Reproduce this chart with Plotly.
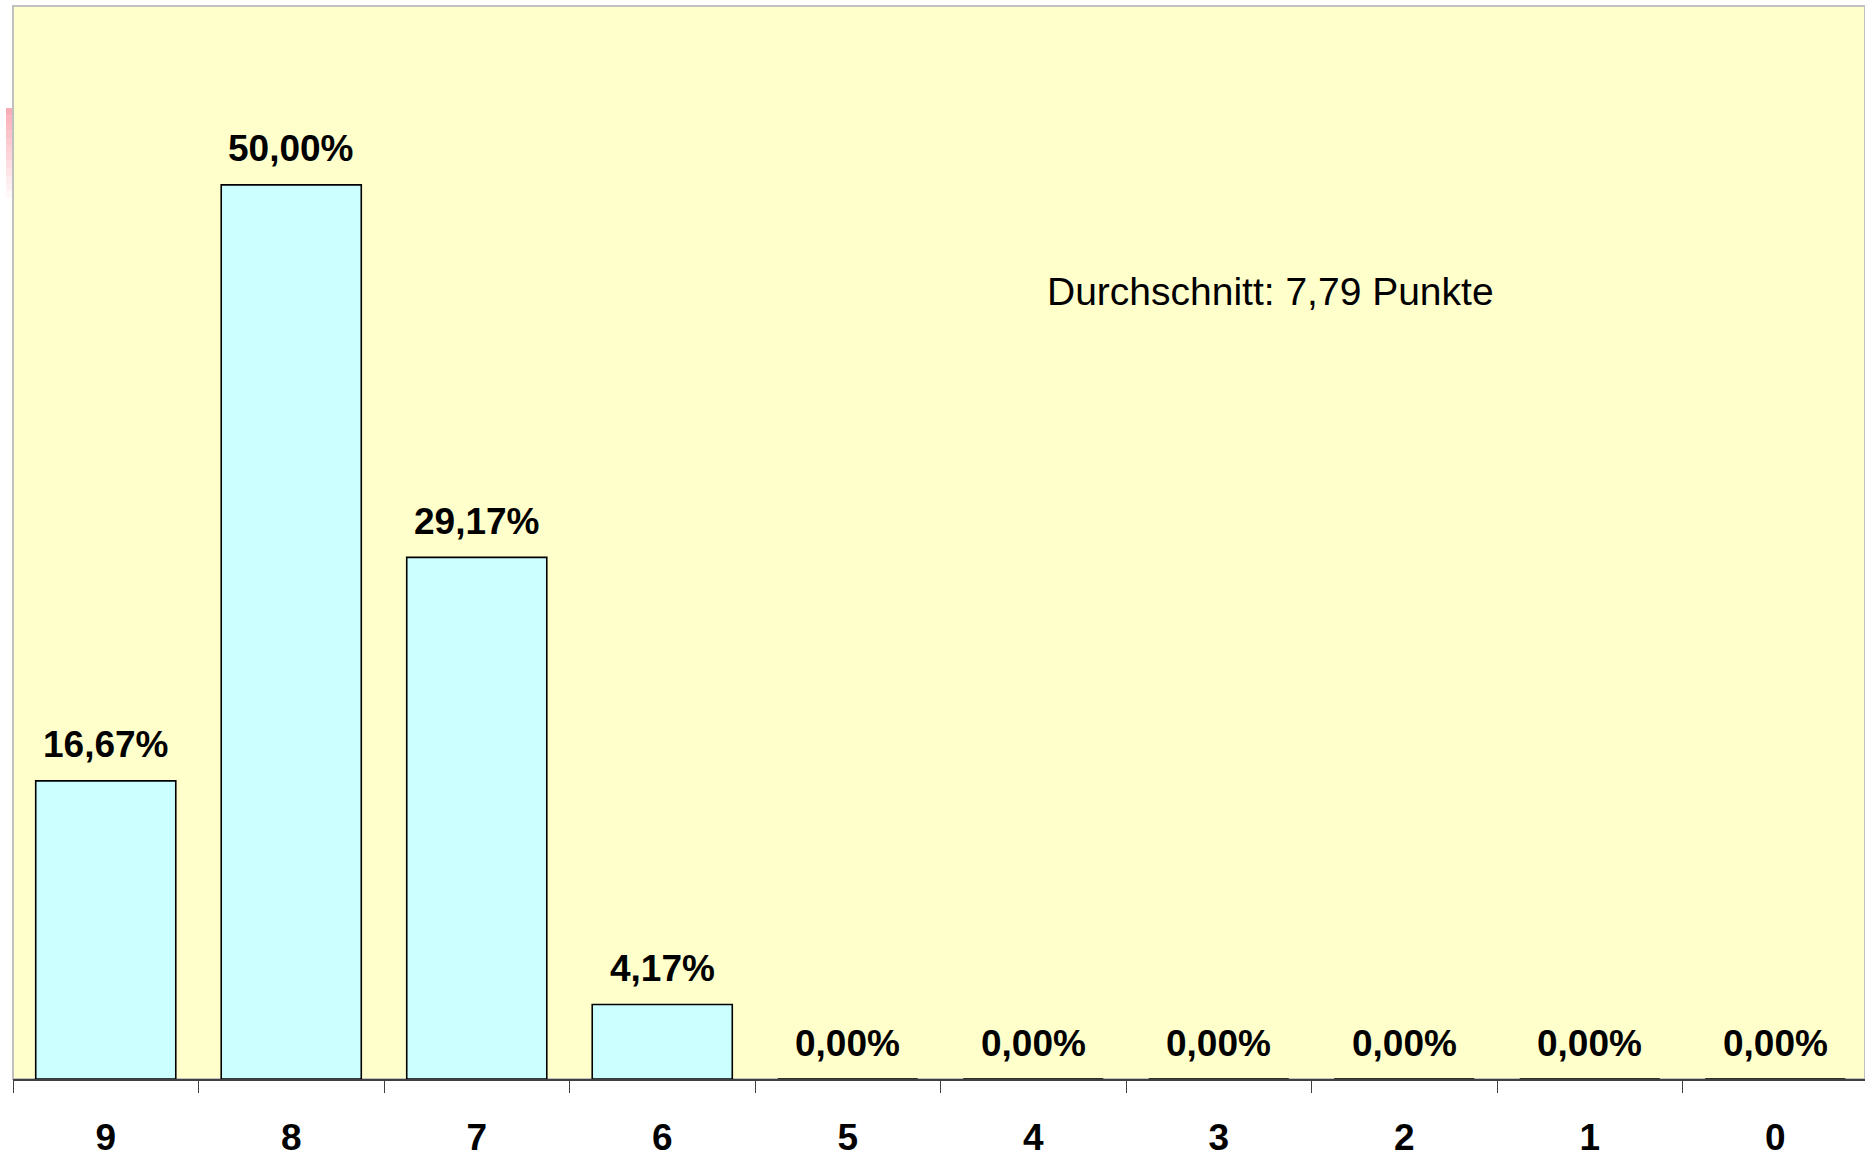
import plotly.graph_objects as go

categories = ["9", "8", "7", "6", "5", "4", "3", "2", "1", "0"]
percentages = [16.67, 50.00, 29.17, 4.17, 0.00, 0.00, 0.00, 0.00, 0.00, 0.00]
average_text = "Durchschnitt: 7,79 Punkte"

W, H = 1865, 1154
ml, mr, mt, mb = 13, 0, 6, 75
plot_w = W - ml - mr
plot_h = H - mt - mb
cat_px = 185.5

FONT = "Liberation Sans, Arial, sans-serif"

fig = go.Figure()
fig.add_trace(go.Bar(
    x=categories,
    y=percentages,
    marker=dict(color="#CCFFFF", line=dict(color="#000000", width=1.6)),
    width=0.755,
    hoverinfo="skip",
))

annotations = []
for i, v in enumerate(percentages):
    annotations.append(dict(
        x=i, y=v, xref="x", yref="y",
        text=f"{v:.2f}".replace(".", ",") + "%",
        showarrow=False, yanchor="middle", yshift=36,
        font=dict(family=FONT, size=37, color="#000000", weight="bold"),
    ))

annotations.append(dict(
    x=(1270 - ml) / plot_w, y=(plot_h - (292 - mt)) / plot_h,
    xref="paper", yref="paper", text=average_text, showarrow=False,
    xanchor="center", yanchor="middle",
    font=dict(family=FONT, size=39, color="#000000"),
))

shapes = [dict(
    type="rect", xref="paper", yref="paper", x0=0, x1=1, y0=0, y1=1,
    line=dict(color="#C0C0C0", width=2), fillcolor="rgba(0,0,0,0)", layer="below",
)]

# faint pink gradient strip left of the plot area (decoration)
n = 12
top_px, bot_px = 108, 198
for k in range(n):
    y0p = top_px + (bot_px - top_px) * k / n - mt
    y1p = top_px + (bot_px - top_px) * (k + 1) / n - mt
    alpha = 0.6 * (1 - k / n)
    shapes.append(dict(
        type="rect", xref="paper", yref="paper",
        x0=(6 - ml) / plot_w, x1=(12 - ml) / plot_w,
        y0=(plot_h - y1p) / plot_h, y1=(plot_h - y0p) / plot_h,
        line=dict(width=0), fillcolor=f"rgba(245,120,135,{alpha:.3f})", layer="above",
    ))

fig.update_layout(
    width=W, height=H,
    margin=dict(l=ml, r=mr, t=mt, b=mb, autoexpand=False),
    paper_bgcolor="#FFFFFF",
    plot_bgcolor="#FFFFCC",
    showlegend=False,
    bargap=0.245,
    annotations=annotations,
    shapes=shapes,
    xaxis=dict(
        type="category",
        range=[-0.5, -0.5 + plot_w / cat_px],
        automargin=False,
        showgrid=False, zeroline=False,
        showline=True, linecolor="#404040", linewidth=2,
        ticks="outside", ticklen=12, tickwidth=1.2, tickcolor="#404040",
        tickson="boundaries",
        tickfont=dict(family=FONT, size=37, color="#000000", weight="bold"),
        ticklabelstandoff=25,
    ),
    yaxis=dict(
        range=[0, 60],
        automargin=False,
        showgrid=False, zeroline=False, showticklabels=False, ticks="",
        showline=False,
    ),
)

fig.write_html(
    "out.html",
    config={"displayModeBar": False},
    post_script="document.body.style.margin='0';document.body.style.overflow='hidden';",
)
